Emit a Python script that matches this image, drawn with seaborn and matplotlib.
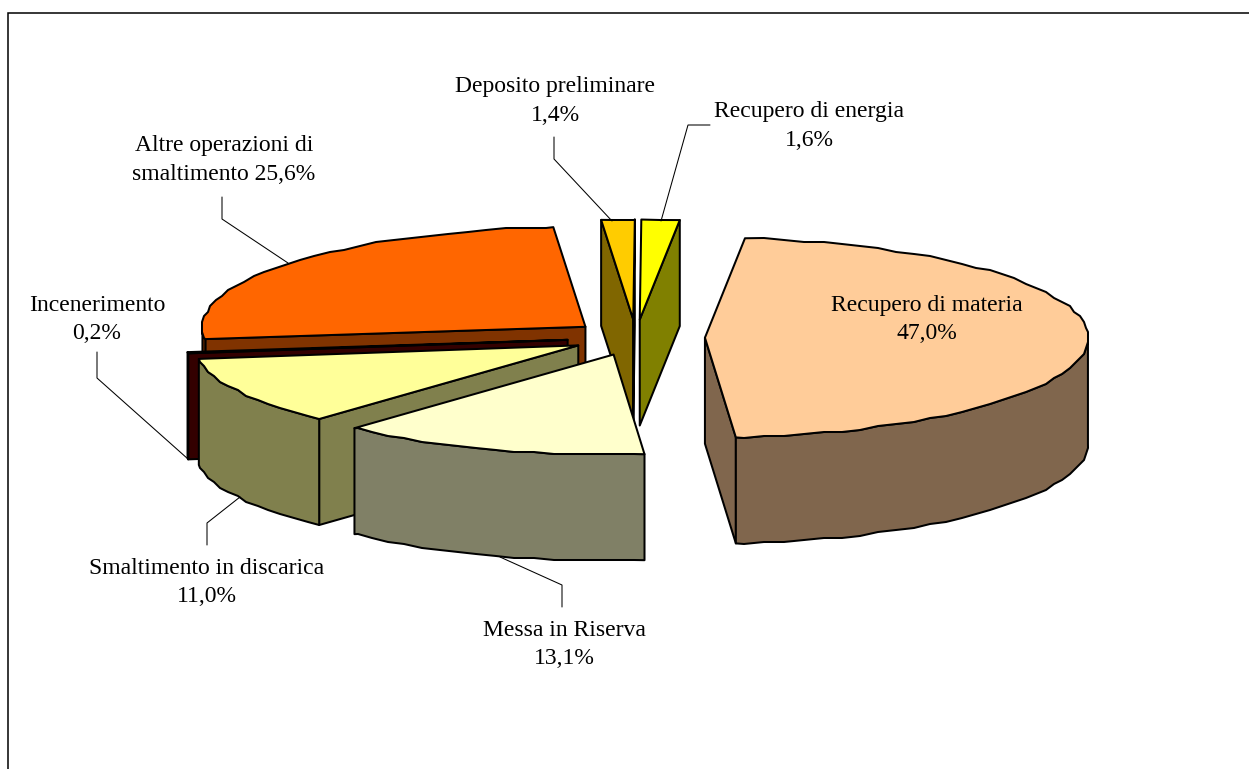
import numpy as np
import seaborn as sns
import matplotlib
matplotlib.use("Agg")
import matplotlib.pyplot as plt
from matplotlib.patches import Polygon

# ---- data (clockwise from the pie's start angle) ----
names = ["Recupero di materia", "Messa in Riserva", "Smaltimento in discarica",
         "Incenerimento", "Altre operazioni di\nsmaltimento", "Deposito preliminare",
         "Recupero di energia"]
values = [47.0, 13.1, 11.0, 0.2, 25.6, 1.4, 1.6]
colors = ["#FFCC99", "#FFFFCC", "#FFFF99", "#660000", "#FF6600", "#FFCC00", "#FFFF00"]

# ---- pie style ----
CX, CY, RX, RY, DEPTH = 636, 337.5, 383, 100, 106
START_DEG, GRID, STEP_DEG = 6.0, 2.0, 3.0
explode = [0.18, 0.18, 0.17, 0.18, 0.17, 0.18, 0.18]
DRAW_ORDER = [4, 5, 6, 0, 3, 2, 1]
EDGE = dict(edgecolor="black", linewidth=1.45, joinstyle="round")

label_style = [  # centre x, centre y, percentage on the last line's end?
    (927, 319.5, False), (564, 644.5, False), (207, 582.5, False), (97, 319.5, False),
    (224, 160, True), (555, 101, False), (809, 126, False)]
leaders = [
    None,
    [(562, 607), (562, 585), (500, 557)],
    [(207, 545), (207, 523), (240, 497)],
    [(97, 352), (97, 378), (188, 459)],
    [(222, 197), (222, 219), (288, 263)],
    [(554, 137), (554, 159), (612, 221)],
    [(710, 125), (688, 125), (661, 221)],
]

sns.set_theme(style="white")
plt.rcParams["font.family"] = ["Liberation Serif", "DejaVu Serif"]
fig = plt.figure(figsize=(12.49, 7.69), dpi=100, facecolor="white")
ax = fig.add_axes([0, 0, 1, 1])
ax.set_xlim(0, 1249)
ax.set_ylim(769, 0)
ax.axis("off")
palette = sns.color_palette(colors)

# outer frame: only top and left sides fall inside the picture
ax.plot([8, 8, 1260], [780, 13, 13], color="black", lw=1.1, solid_joinstyle="miter")

fractions = np.array(values) / np.sum(values)
edges = START_DEG + 360 * np.concatenate([[0], np.cumsum(fractions)])


def rim(cx, cy, a_deg, b_deg):
    """Rim points on one shared angular grid, so face and wall outlines coincide."""
    inner = np.arange(np.ceil(a_deg / STEP_DEG + 1e-6), np.floor(b_deg / STEP_DEG - 1e-6) + 1) * STEP_DEG
    d = np.concatenate([[a_deg], inner, [b_deg]])
    t = np.radians(d)
    x = cx + RX * np.sin(t)
    y = cy - RY * np.cos(t)
    xq, yq = np.round(x / GRID) * GRID, np.round(y / GRID) * GRID
    xq[[0, -1]], yq[[0, -1]] = x[[0, -1]], y[[0, -1]]
    return np.column_stack([xq, yq])


def shift(p):
    return p + np.array([0, DEPTH])


def cross(u, v):
    return u[0] * v[1] - u[1] * v[0]


for i in DRAW_ORDER:
    a, b = edges[i], edges[i + 1]
    mid = np.radians((a + b) / 2)
    c = np.array([CX + explode[i] * RX * np.sin(mid), CY - explode[i] * RY * np.cos(mid)])
    top = palette[i]
    side = tuple(v * 0.5 for v in top)
    r = rim(c[0], c[1], a, b)
    inside = np.array([np.sin(mid) * RX, -np.cos(mid) * RY])
    # radial cut walls, only where they turn to the viewer
    for p in (r[0], r[-1]):
        if np.sign(cross(p - c, (0, 1))) != np.sign(cross(p - c, inside)):
            ax.add_patch(Polygon([c, p, shift(p), shift(c)], facecolor=side, **EDGE))
    # outer wall: only the part of the rim that faces the viewer
    lo, hi = max(a, 90.0), min(b, 270.0)
    if hi > lo:
        w = rim(c[0], c[1], lo, hi)
        ax.add_patch(Polygon(np.vstack([w, shift(w)[::-1]]), facecolor=side, **EDGE))
    # top face
    ax.add_patch(Polygon(np.vstack([c, r]), facecolor=top, **EDGE))

# leaders
for pts in leaders:
    if pts:
        xs, ys = zip(*pts)
        ax.plot(xs, ys, color="black", lw=0.75, solid_joinstyle="miter")

# labels
for name, v, (lx, ly, inline) in zip(names, values, label_style):
    pct = f"{v:.1f}%".replace(".", ",")
    txt = f"{name} {pct}" if inline else f"{name}\n{pct}"
    ax.text(lx, ly, txt, ha="center", va="center", fontsize=17, color="black", linespacing=1.47)

fig.savefig("out.png", dpi=100, facecolor="white")
